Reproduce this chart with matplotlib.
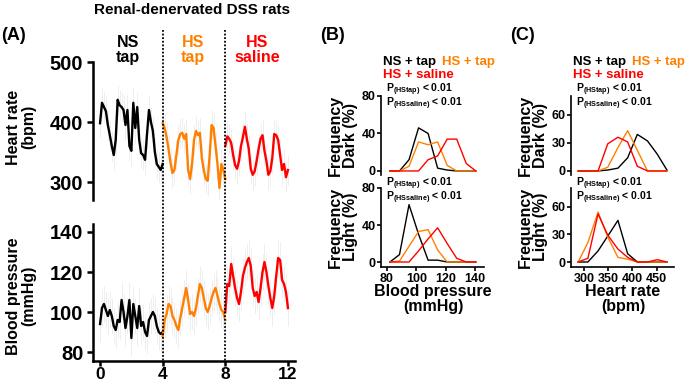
import numpy as np
import matplotlib.pyplot as plt
from matplotlib.lines import Line2D
from matplotlib.transforms import blended_transform_factory

plt.rcParams['font.family'] = ['Liberation Sans', 'DejaVu Sans']
plt.rcParams['font.weight'] = 'bold'
plt.rcParams['mathtext.fontset'] = 'custom'
plt.rcParams['mathtext.rm'] = 'Liberation Sans'
plt.rcParams['mathtext.bf'] = 'Liberation Sans:bold'

# ---- panel A: telemetry, 3-hour means (days) ----
t_ns = np.arange(33) * 0.125
t_hs = t_ns + 4
t_sal = t_ns + 8

hr_ns = [398, 432, 425, 418, 395, 378, 360, 345, 370, 437, 428, 425, 420, 395, 420, 360, 352,
         432, 390, 425, 370, 348, 345, 337, 380, 420, 400, 385, 350, 330, 325, 320, 330]
hr_hs = [398, 390, 375, 355, 332, 315, 320, 345, 370, 380, 382, 372, 380, 320, 305, 330, 370,
         385, 378, 382, 340, 320, 305, 302, 345, 395, 390, 360, 330, 290, 330, 320, 305]
hr_sal = [360, 376, 372, 365, 345, 328, 322, 335, 360, 375, 392, 372, 355, 322, 312, 318, 335,
          355, 372, 378, 352, 335, 312, 318, 340, 380, 378, 370, 345, 320, 330, 308, 320]

bp_ns = [94, 102, 104, 101, 98, 101, 98, 93, 91, 96, 95, 106, 100, 92, 98, 106, 87,
         104, 98, 92, 103, 93, 95, 90, 88, 96, 98, 100, 98, 93, 90, 89, 90]
bp_hs = [88, 96, 99, 104, 103, 98, 96, 93, 91, 97, 102, 107, 112, 106, 99, 100, 98,
         102, 108, 114, 112, 107, 102, 100, 103, 107, 110, 112, 108, 104, 101, 100, 96]
bp_sal = [100, 114, 113, 124, 118, 112, 107, 104, 110, 118, 122, 125, 127, 123, 112, 108, 110,
          105, 112, 120, 125, 120, 113, 107, 102, 108, 118, 127, 126, 116, 114, 110, 102]

hr_sem = 25
bp_sem = 9

# ---- panels B / C: frequency distributions (%) ----
bp_bins = [82, 88.5, 95, 101.5, 108, 114.5, 121, 127.5, 134, 140.5]
bp_dark_ns = [0, 0, 12, 46, 40, 3, 1, 0, 0, 0]
bp_dark_hs = [0, 0, 5, 31, 28, 31, 6, 0, 0, 0]
bp_dark_sal = [0, 0, 0, 0, 12, 16, 34, 34, 8, 0]
bp_light_ns = [0, 8, 62, 30, 2, 2, 0, 0, 0, 0]
bp_light_hs = [0, 1, 17, 33, 35, 13, 0, 0, 0, 0]
bp_light_sal = [0, 0, 0, 12, 25, 37, 20, 4, 0, 0]

hr_bins = [288, 308, 329, 349, 370, 390, 410, 431, 451, 471]
hr_dark_ns = [0, 0, 0, 1, 3, 14, 39, 32, 18, 1]
hr_dark_hs = [0, 0, 0, 4, 25, 43, 22, 0, 0, 0]
hr_dark_sal = [0, 0, 0, 29, 36, 31, 5, 0, 0, 0]
hr_light_ns = [0, 0, 12, 28, 45, 9, 0, 0, 0, 0]
hr_light_hs = [0, 21, 54, 27, 5, 3, 0, 0, 0, 0]
hr_light_sal = [0, 4, 52, 29, 14, 5, 0, 0, 2.5, 0]

BLACK, ORANGE, RED = '#000000', '#ff8000', '#ff0000'

W, H = 685, 386
fig = plt.figure(figsize=(W / 100, H / 100), dpi=100)


def box(left, top, right, bottom):
    return [left / W, 1 - bottom / H, (right - left) / W, (bottom - top) / H]


def txt(x, y, s, **kw):
    kw.setdefault('ha', 'center')
    kw.setdefault('va', 'center')
    fig.text(x / W, 1 - y / H, s, **kw)


def style(ax, lw, size, length, pad, bottom=True):
    for side in ['top', 'right']:
        ax.spines[side].set_visible(False)
    ax.spines['bottom'].set_visible(bottom)
    ax.spines['left'].set_linewidth(lw)
    ax.spines['bottom'].set_linewidth(lw)
    ax.tick_params(width=lw, length=length, pad=pad, labelsize=size)
    if not bottom:
        ax.set_xticks([])


## Panel A ##
ax_hr = fig.add_axes(box(93, 62, 295, 200))
ax_bp = fig.add_axes(box(93, 224, 295, 361))
series = [(t_ns, BLACK), (t_hs, ORANGE), (t_sal, RED)]
for ax, vals, sem in [(ax_hr, [hr_ns, hr_hs, hr_sal], hr_sem),
                      (ax_bp, [bp_ns, bp_hs, bp_sal], bp_sem)]:
    for (t, c), v in zip(series, vals):
        ax.errorbar(t, v, yerr=sem, fmt='none', ecolor='#ebebeb', elinewidth=0.6)
        ax.plot(t, v, color=c, lw=1.7)
    ax.set_xlim(-0.45, 12.45)

ax_hr.set_ylim(270, 500)
ax_hr.set_yticks([300, 400, 500])
style(ax_hr, 1.8, 14.5, 4, 3, bottom=False)

ax_bp.set_ylim(75.5, 144)
ax_bp.set_yticks([80, 100, 120, 140])
ax_bp.set_xticks([0, 4, 8, 12])
style(ax_bp, 1.8, 14.5, 4, 3)
ax_bp.tick_params(axis='x', labelsize=12.5, pad=0.5, length=3.5)

# period separators
trans = blended_transform_factory(ax_bp.transData, fig.transFigure)
for xd in [4, 8]:
    fig.add_artist(Line2D([xd, xd], [1 - 30 / H, 1 - 361 / H], transform=trans,
                          color='black', lw=1.3, dashes=(1, 1)))

txt(192, 10, 'Renal-denervated DSS rats', fontsize=11)
txt(1, 36, '(A)', fontsize=13, ha='left')
txt(128, 50, 'NS\ntap', fontsize=11.5, color=BLACK, linespacing=1.05)
txt(193, 50, 'HS\ntap', fontsize=11.5, color=ORANGE, linespacing=1.05)
txt(257, 50, 'HS\nsaline', fontsize=11.5, color=RED, linespacing=1.05)
txt(21, 127, 'Heart rate\n(bpm)', fontsize=11.5, rotation=90, linespacing=1.05)
txt(21, 296, 'Blood pressure\n(mmHg)', fontsize=11.5, rotation=90, linespacing=1.05)

## Panels B and C ##
p_text = 'P$_{\\mathbf{(HStap)}}$ < 0.01\nP$_{\\mathbf{(HSsaline)}}$ < 0.01'


def hist_panel(x0, bins, dark, light, xlim, yticks, xticks, letter, xlabel):
    axd = fig.add_axes(box(x0, 96, x0 + 103, 175))
    axl = fig.add_axes(box(x0, 188, x0 + 103, 267))
    for ax, data in [(axd, dark), (axl, light)]:
        for vals, c in zip(data, [BLACK, ORANGE, RED]):
            ax.plot(bins, vals, color=c, lw=1.0)
        ax.set_xlim(*xlim)
        ax.set_yticks(yticks)
    axd.set_ylim(-4.3, 80)
    axl.set_ylim(-5.4, 80)
    axl.set_xticks(xticks)
    style(axd, 1.2, 9, 3, 1, bottom=False)
    style(axl, 1.2, 9, 3, 1)

    txt(x0 - 61, 36, letter, fontsize=13, ha='left')
    txt(x0 + 2, 62, 'NS + tap', fontsize=9.5, ha='left', color=BLACK)
    txt(x0 + 61, 62, 'HS + tap', fontsize=9.5, ha='left', color=ORANGE)
    txt(x0 + 2, 75, 'HS + saline', fontsize=9.5, ha='left', color=RED)
    for ymid in [97, 191]:
        txt(x0 + 5, ymid, p_text, fontsize=7.5, ha='left', linespacing=0.82)
    txt(x0 - 38.5, 135.5, 'Frequency\nDark (%)', fontsize=11.5, rotation=90, linespacing=1.0)
    txt(x0 - 38.5, 227, 'Frequency\nLight (%)', fontsize=11.5, rotation=90, linespacing=1.0)
    txt(x0 + 52, 299, xlabel, fontsize=11.5, linespacing=1.05)


hist_panel(381, bp_bins, [bp_dark_ns, bp_dark_hs, bp_dark_sal],
           [bp_light_ns, bp_light_hs, bp_light_sal], (75.9, 146.1),
           [0, 40, 80], [80, 100, 120, 140], '(B)', 'Blood pressure\n(mmHg)')
hist_panel(571, hr_bins, [hr_dark_ns, hr_dark_hs, hr_dark_sal],
           [hr_light_ns, hr_light_hs, hr_light_sal], (273.2, 485.6),
           [0, 30, 60], [300, 350, 400, 450], '(C)', 'Heart rate\n(bpm)')

fig.savefig('out.png', dpi=100)
